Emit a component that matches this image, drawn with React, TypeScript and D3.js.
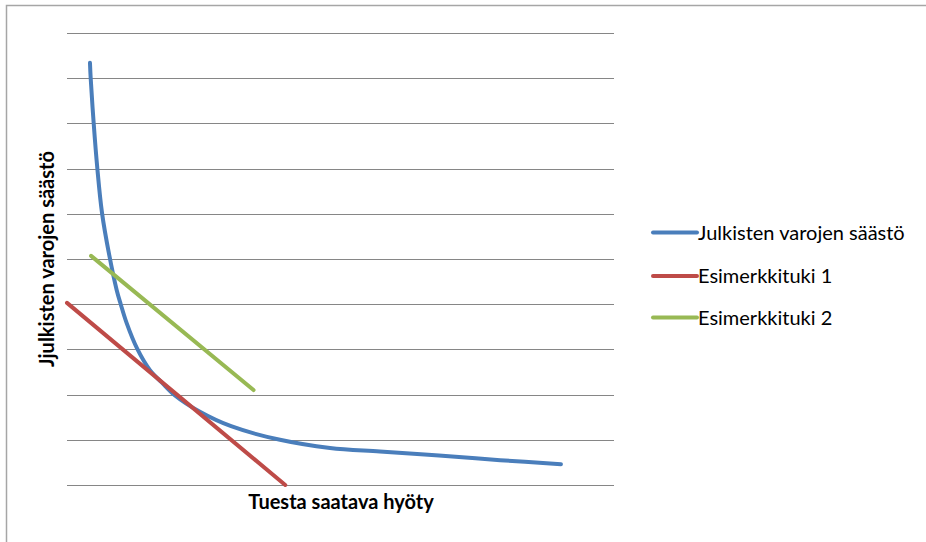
import React from "react";
import * as d3 from "d3";

// Data (in chart units: x 0..100, y 0..10)
const seriesNames = ["Julkisten varojen säästö", "Esimerkkituki 1", "Esimerkkituki 2"];
const blueX = [4.2, 4.33, 4.88, 5.54, 6.4, 7.7, 9.09, 9.82, 10.91, 12.85, 15.17, 17.31, 19.74, 24.3, 30.0, 38.94, 48.08, 57.2, 68.0, 79.2, 90.3];
const blueY = [9.34, 9.0, 8.0, 7.01, 6.02, 5.1, 4.31, 4.0, 3.58, 3.01, 2.54, 2.27, 1.98, 1.62, 1.3, 1.0, 0.82, 0.74, 0.65, 0.55, 0.46];
const redX = [0, 39.9];
const redY = [4.03, 0];
const greenX = [4.4, 34.1];
const greenY = [5.07, 2.1];
const xTitle = "Tuesta saatava hyöty";
const yTitle = "Jjulkisten varojen säästö";

const colors = ["#4A7EBB", "#BE4B48", "#98B954"];

export default function App() {
  const W = 926, H = 542;
  const x = d3.scaleLinear().domain([0, 100]).range([67, 614]);
  const y = d3.scaleLinear().domain([0, 10]).range([485, 33]);
  const grid = y.ticks(10);

  const toPts = (xs: number[], ys: number[]) => xs.map((v, i) => [v, ys[i]] as [number, number]);
  const smooth = d3.line<[number, number]>().x(d => x(d[0])).y(d => y(d[1])).curve(d3.curveCatmullRom.alpha(0.5));
  const straight = d3.line<[number, number]>().x(d => x(d[0])).y(d => y(d[1]));

  const series = [
    { name: seriesNames[0], d: smooth(toPts(blueX, blueY)) },
    { name: seriesNames[1], d: straight(toPts(redX, redY)) },
    { name: seriesNames[2], d: straight(toPts(greenX, greenY)) },
  ];
  const legendY = [232.5, 276, 317.5];
  const font = "Lato, 'Open Sans', sans-serif";

  return (
    <svg width={W} height={H} style={{ position: "absolute", left: 0, top: 0, background: "#fff" }}>
      <rect x={6.5} y={5.5} width={1000} height={1000} fill="#fff" stroke="#a6a6a6" strokeWidth={1.5} />
      {grid.map(t => (
        <line key={t} x1={x(0)} x2={x(100)} y1={Math.round(y(t)) + 0.5} y2={Math.round(y(t)) + 0.5} stroke="#868686" strokeWidth={1.2} />
      ))}
      {series.map((s, i) => (
        <path key={s.name} d={s.d || ""} fill="none" stroke={colors[i]} strokeWidth={4} strokeLinecap="round" />
      ))}
      <text x={341} y={509} textAnchor="middle" fontFamily={font} fontWeight="bold" fontSize={20} fill="#000">{xTitle}</text>
      <text transform="translate(54,259) rotate(-90)" textAnchor="middle" fontFamily={font} fontWeight="bold" fontSize={20} fill="#000">{yTitle}</text>
      {series.map((s, i) => (
        <g key={s.name + "-leg"}>
          <line x1={653} x2={697} y1={legendY[i]} y2={legendY[i]} stroke={colors[i]} strokeWidth={4} strokeLinecap="round" />
          <text x={698} y={legendY[i] + 7} fontFamily={font} fontSize={20} fill="#000">{s.name}</text>
        </g>
      ))}
    </svg>
  );
}
